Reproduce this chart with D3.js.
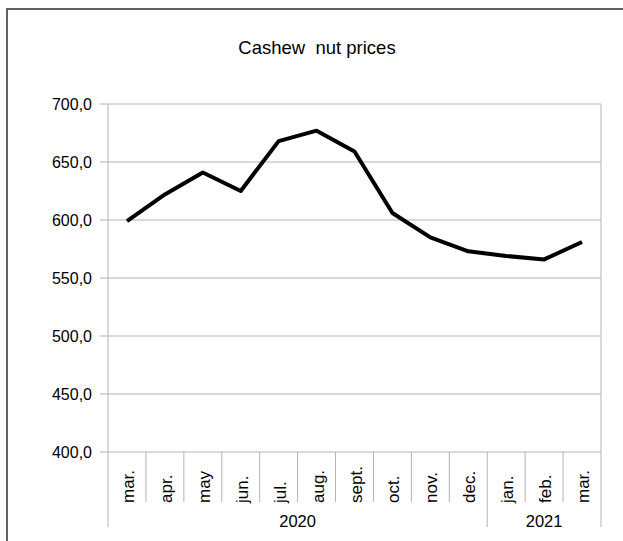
<!DOCTYPE html>
<html>
<head>
<meta charset="utf-8">
<script src="https://cdnjs.cloudflare.com/ajax/libs/d3/7.8.5/d3.min.js"></script>
<style>
  body { margin: 0; background: #fff; }
  text { font-family: "Liberation Sans", Arial, sans-serif; fill: #000; }
</style>
</head>
<body>
<div id="chart"></div>
<script>
// data
var months = ["mar.", "apr.", "may", "jun.", "jul.", "aug.", "sept.", "oct.", "nov.", "dec.", "jan.", "feb.", "mar."];
var years = ["2020", "2020", "2020", "2020", "2020", "2020", "2020", "2020", "2020", "2020", "2021", "2021", "2021"];
var prices = [599, 622, 641, 625, 668, 677, 659, 606, 585, 573, 569, 566, 581];
var yTicks = [400, 450, 500, 550, 600, 650, 700];

var width = 623, height = 541;
var plotLeft = 108, plotRight = 601, plotTop = 104, plotBottom = 452;
var grid = "#b3b3b3";

var svg = d3.select("#chart").append("svg")
  .attr("width", width)
  .attr("height", height);

// outer frame
svg.append("rect")
  .attr("x", 7).attr("y", 9)
  .attr("width", 700).attr("height", 600)
  .attr("fill", "none")
  .attr("stroke", "#3a3a3a")
  .attr("stroke-width", 1.6);

svg.append("text")
  .attr("x", 317).attr("y", 54)
  .attr("text-anchor", "middle")
  .attr("xml:space", "preserve")
  .style("font-size", "18.5px")
  .text("Cashew  nut prices");

var x = d3.scaleBand().domain(d3.range(months.length)).range([plotLeft, plotRight]);
var y = d3.scaleLinear().domain([400, 700]).range([plotBottom, plotTop]);

// horizontal grid + ticks
svg.append("g").selectAll("line")
  .data(yTicks)
  .enter().append("line")
  .attr("x1", plotLeft - 8).attr("x2", plotRight)
  .attr("y1", function(d){ return y(d); })
  .attr("y2", function(d){ return y(d); })
  .attr("stroke", grid).attr("stroke-width", 1);

svg.append("g").selectAll("text")
  .data(yTicks)
  .enter().append("text")
  .attr("x", 92)
  .attr("y", function(d){ return y(d); })
  .attr("dy", "0.35em")
  .attr("text-anchor", "end")
  .style("font-size", "16px")
  .text(function(d){ return d3.format(".1f")(d).replace(".", ","); });

// plot borders
svg.append("line")
  .attr("x1", plotLeft).attr("x2", plotLeft).attr("y1", plotTop).attr("y2", 527)
  .attr("stroke", grid);
svg.append("line")
  .attr("x1", plotRight).attr("x2", plotRight).attr("y1", plotTop).attr("y2", 527)
  .attr("stroke", grid);

// category separators, longer where the year changes
svg.append("g").selectAll("line")
  .data(d3.range(1, months.length))
  .enter().append("line")
  .attr("x1", function(i){ return x(i); })
  .attr("x2", function(i){ return x(i); })
  .attr("y1", plotBottom)
  .attr("y2", function(i){ return years[i] !== years[i - 1] ? 527 : 502; })
  .attr("stroke", grid);

// month labels, bottom aligned
svg.append("g").selectAll("text")
  .data(months)
  .enter().append("text")
  .attr("transform", function(d, i){
    return "translate(" + (x(i) + x.bandwidth() / 2 + 7) + ",503) rotate(-90)";
  })
  .attr("text-anchor", "start")
  .style("font-size", "17px")
  .text(function(d){ return d; });

// year labels
var yearGroups = d3.groups(d3.range(years.length), function(i){ return years[i]; });
svg.append("g").selectAll("text")
  .data(yearGroups)
  .enter().append("text")
  .attr("x", function(g){
    var idx = g[1];
    return (x(idx[0]) + x(idx[idx.length - 1]) + x.bandwidth()) / 2;
  })
  .attr("y", 527)
  .attr("text-anchor", "middle")
  .style("font-size", "16.5px")
  .text(function(g){ return g[0]; });

// line
var line = d3.line()
  .x(function(d, i){ return x(i) + x.bandwidth() / 2; })
  .y(function(d){ return y(d); });

svg.append("path")
  .datum(prices)
  .attr("d", line)
  .attr("fill", "none")
  .attr("stroke", "#000")
  .attr("stroke-width", 4)
  .attr("stroke-linejoin", "round");
</script>
</body>
</html>
